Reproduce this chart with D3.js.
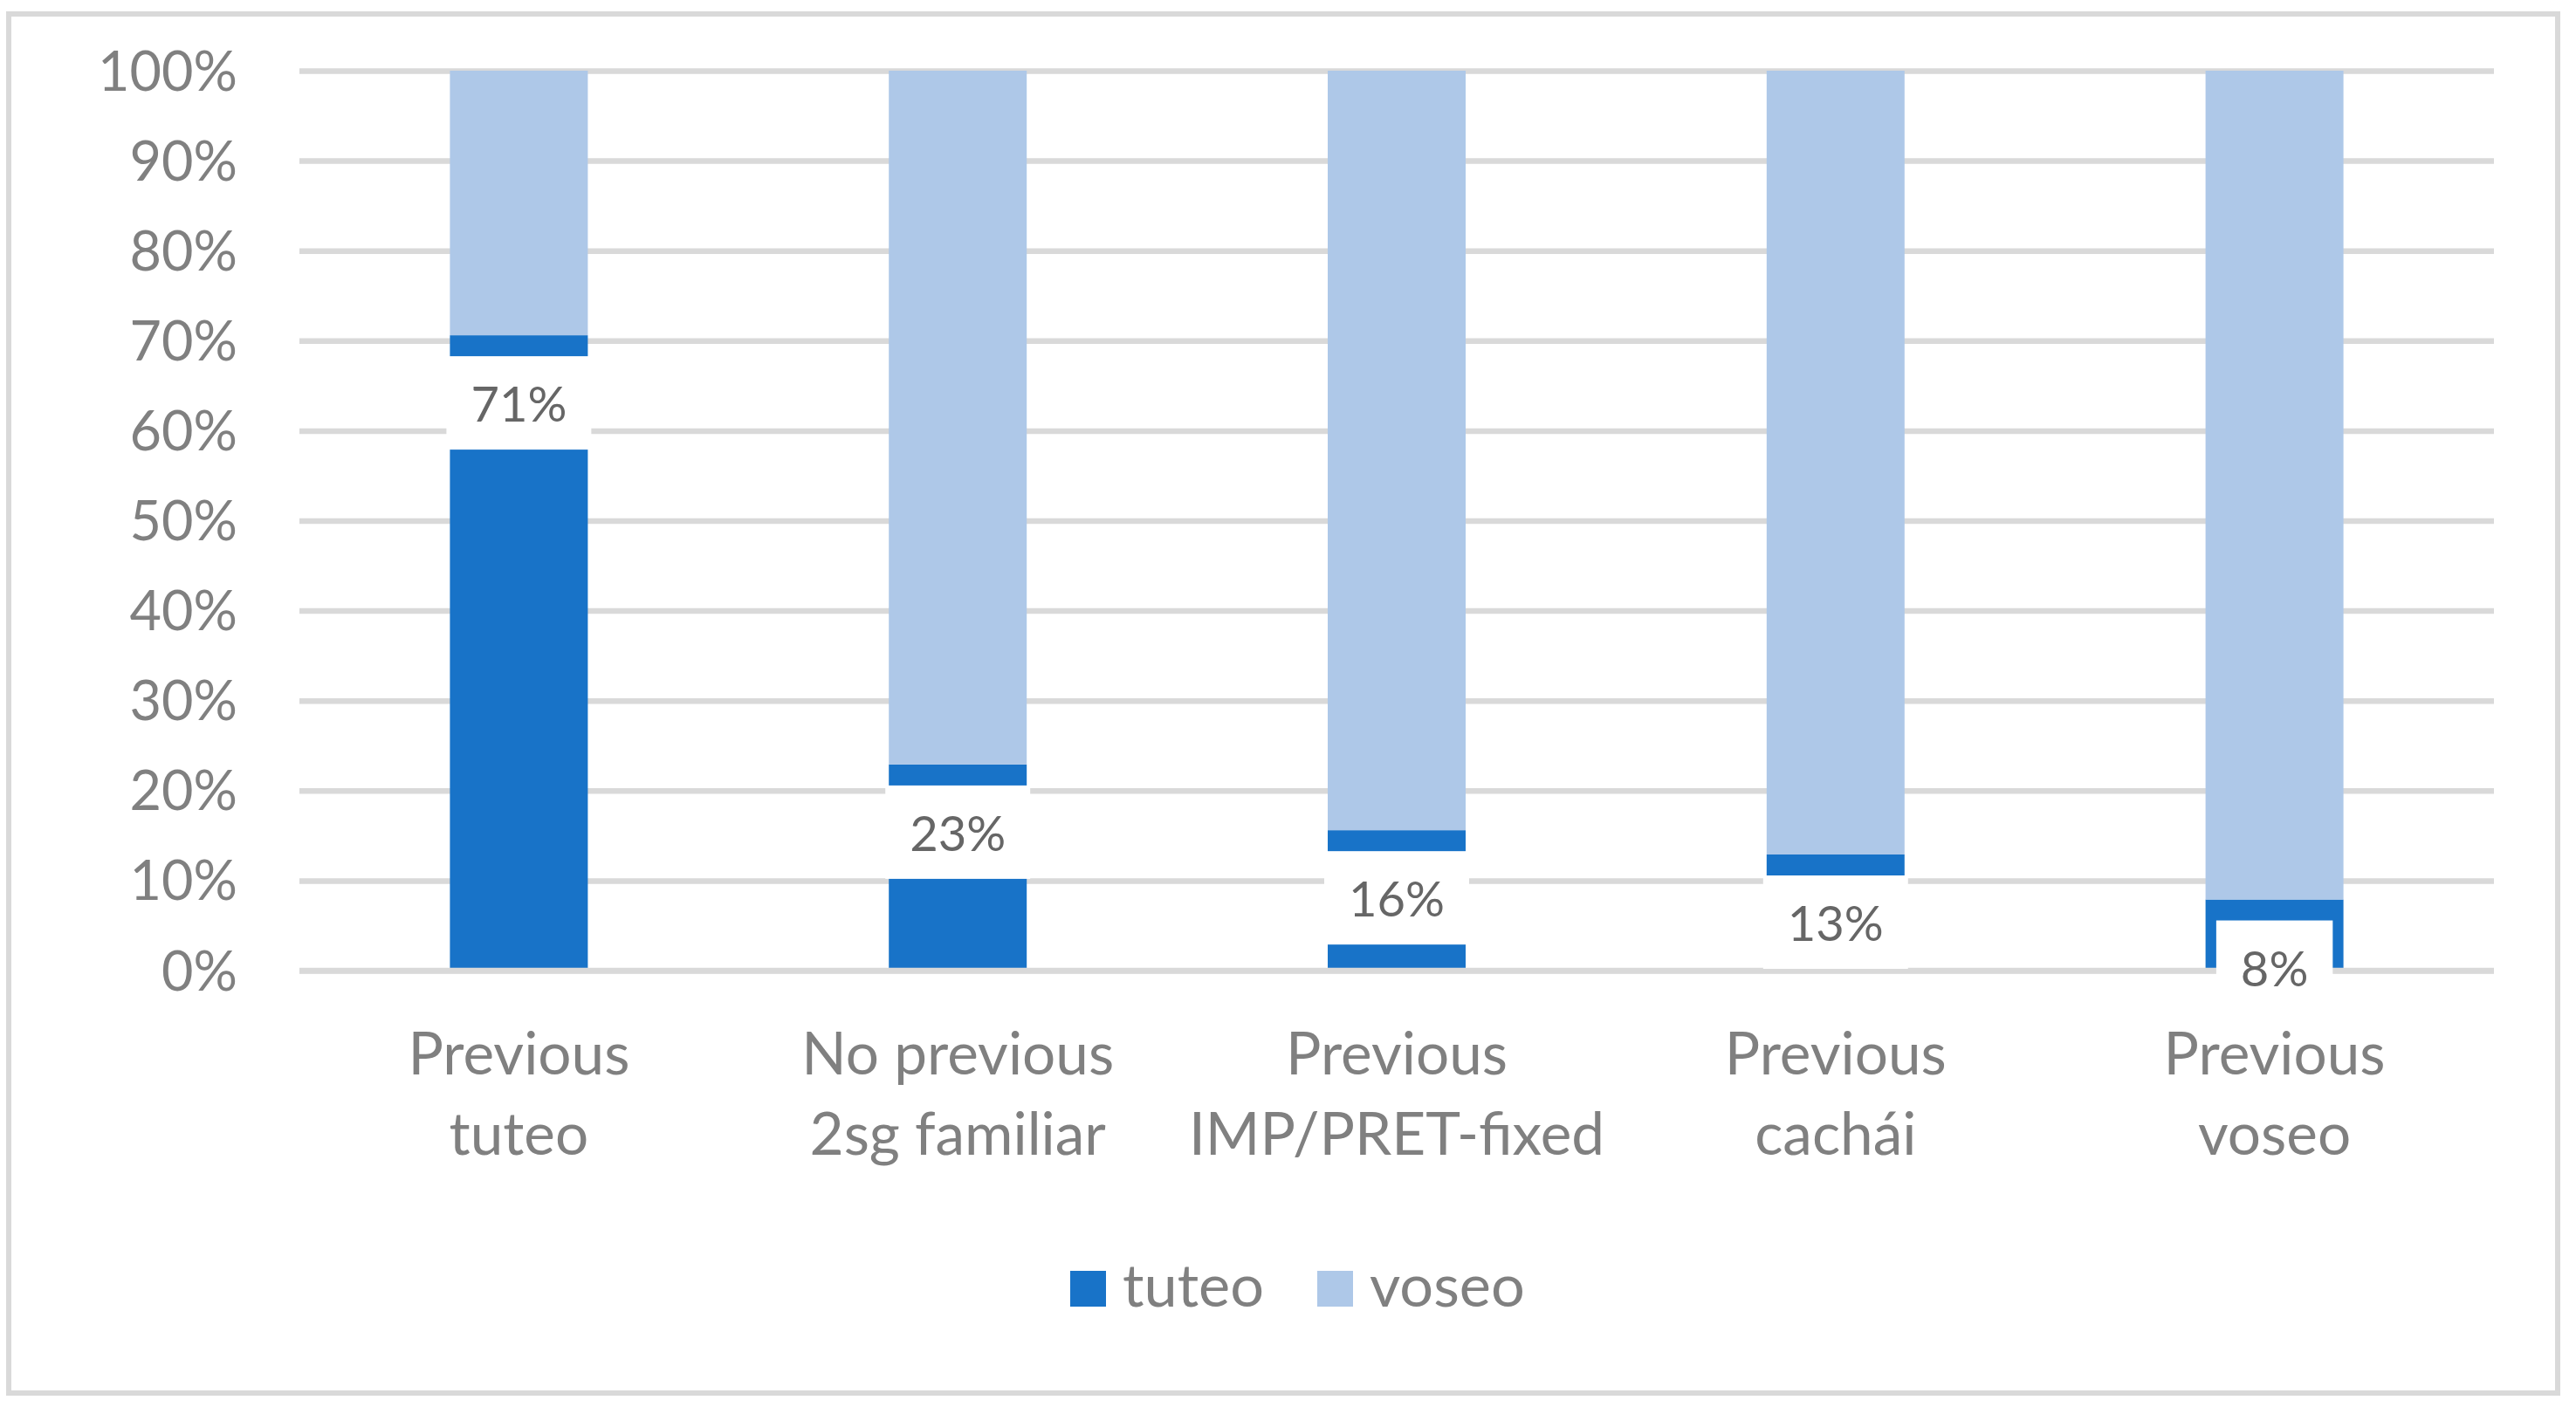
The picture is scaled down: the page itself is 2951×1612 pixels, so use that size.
<!DOCTYPE html>
<html>
<head>
<meta charset="utf-8">
<script src="https://cdn.jsdelivr.net/npm/d3@7"></script>
<style>
  html, body { margin: 0; padding: 0; background: #ffffff; }
  svg { display: block; }
</style>
</head>
<body>
<svg id="chart" width="2951" height="1612"></svg>
<script>
// ---------- data ----------
const categories = ["Previous tuteo", "No previous 2sg familiar", "Previous IMP/PRET-fixed", "Previous cachái", "Previous voseo"];
const categoryLines = [["Previous", "tuteo"], ["No previous", "2sg familiar"], ["Previous", "IMP/PRET-fixed"], ["Previous", "cachái"], ["Previous", "voseo"]];
const seriesNames = ["tuteo", "voseo"];
const tuteo = [0.706, 0.229, 0.156, 0.129, 0.079];
const voseo = [0.294, 0.771, 0.844, 0.871, 0.921];
const tickValues = [0, 0.1, 0.2, 0.3, 0.4, 0.5, 0.6, 0.7, 0.8, 0.9, 1.0];
const tickLabels = ["0%", "10%", "20%", "30%", "40%", "50%", "60%", "70%", "80%", "90%", "100%"];

// ---------- styling ----------
const FONT = "Lato, 'Open Sans', sans-serif";
const colors = { tuteo: "#1873C8", voseo: "#AEC8E8" };
const gridColor = "#D9D9D9";
const textGray = "#808080";
const labelGray = "#666666";

const svg = d3.select("#chart");

// helper: font size so that a sample string has a given width
function fitSize(sample, targetWidth) {
  const t = svg.append("text").attr("font-family", FONT).attr("font-size", 100).text(sample);
  const w = t.node().getComputedTextLength();
  t.remove();
  return 100 * targetWidth / w;
}
const tickFont = fitSize("100%", 160);
const catFont = fitSize("Previous", 254);
const dataFont = fitSize("23%", 110);
const legendFont = fitSize("tuteo", 162);

// ---------- layout ----------
const plot = { left: 343, right: 2857, top: 81, bottom: 1112 };

const x = d3.scaleBand()
  .domain(categories)
  .range([plot.left, plot.right])
  .paddingInner(0.6858)
  .paddingOuter(0.6858 / 2);

const y = d3.scaleLinear().domain([0, 1]).range([plot.bottom, plot.top]);

// chart border
svg.append("rect")
  .attr("x", 10).attr("y", 16)
  .attr("width", 2920).attr("height", 1580)
  .attr("fill", "#ffffff")
  .attr("stroke", gridColor).attr("stroke-width", 6);

// y axis with gridlines
const yAxis = d3.axisLeft(y)
  .tickValues(tickValues)
  .tickFormat((d, i) => tickLabels[i])
  .tickSizeInner(-(plot.right - plot.left))
  .tickSizeOuter(0);

const gy = svg.append("g").attr("transform", `translate(${plot.left},0)`).call(yAxis);
gy.select(".domain").remove();
gy.selectAll(".tick line").attr("stroke", gridColor).attr("stroke-width", 6.5)
  .attr("x1", 0).attr("x2", plot.right - plot.left);
gy.selectAll(".tick text")
  .attr("x", -(plot.left - 272))
  .attr("dy", "0.35em")
  .attr("font-family", FONT).attr("font-size", tickFont)
  .attr("fill", textGray);

// stacked bars
const rows = categories.map((c, i) => ({ category: c, tuteo: tuteo[i], voseo: voseo[i] }));
const stacked = d3.stack().keys(seriesNames)(rows);

svg.append("g").selectAll("g")
  .data(stacked)
  .join("g")
  .attr("fill", d => colors[d.key])
  .selectAll("rect")
  .data(d => d)
  .join("rect")
  .attr("x", d => x(d.data.category))
  .attr("y", d => y(d[1]))
  .attr("width", x.bandwidth())
  .attr("height", d => y(d[0]) - y(d[1]));

// category axis line (0%) drawn over the bars
svg.append("line")
  .attr("x1", plot.left).attr("x2", plot.right)
  .attr("y1", y(0)).attr("y2", y(0))
  .attr("stroke", gridColor).attr("stroke-width", 6.5);

// data labels (tuteo, inside end with white box)
const fmt = d3.format(".0%");
const lblG = svg.append("g");
rows.forEach(r => {
  const cx = x(r.category) + x.bandwidth() / 2;
  const top = y(r.tuteo) + 24;
  const g = lblG.append("g");
  const t = g.append("text")
    .attr("font-family", FONT).attr("font-size", dataFont)
    .attr("fill", labelGray)
    .attr("text-anchor", "middle")
    .attr("x", cx).attr("y", top + 107 / 2 + 2)
    .attr("dy", "0.35em")
    .text(fmt(r.tuteo));
  const w = t.node().getComputedTextLength() + 56;
  g.insert("rect", "text")
    .attr("x", cx - w / 2).attr("y", top)
    .attr("width", w).attr("height", 107)
    .attr("fill", "#ffffff");
});

// x axis category labels
const xAxis = d3.axisBottom(x).tickSize(0).tickFormat(() => "");
const gx = svg.append("g").attr("transform", `translate(0,${plot.bottom})`).call(xAxis);
gx.select(".domain").remove();
gx.selectAll(".tick text").remove();
gx.selectAll(".tick").each(function (d, i) {
  const t = d3.select(this).append("text")
    .attr("font-family", FONT).attr("font-size", catFont)
    .attr("fill", textGray).attr("text-anchor", "middle");
  categoryLines[i].forEach((line, k) => {
    t.append("tspan").attr("x", 0).attr("y", 1231 - plot.bottom + k * 92).text(line);
  });
});

// legend
const legendItems = [
  { key: "tuteo", sx: 1226, tx: 1286 },
  { key: "voseo", sx: 1509, tx: 1569 }
];
const lg = svg.append("g");
seriesNames.forEach((name, i) => {
  const it = legendItems[i];
  lg.append("rect").attr("x", it.sx).attr("y", 1456).attr("width", 41).attr("height", 41)
    .attr("fill", colors[name]);
  lg.append("text").attr("x", it.tx).attr("y", 1497)
    .attr("font-family", FONT).attr("font-size", legendFont)
    .attr("fill", textGray).text(name);
});
</script>
</body>
</html>
